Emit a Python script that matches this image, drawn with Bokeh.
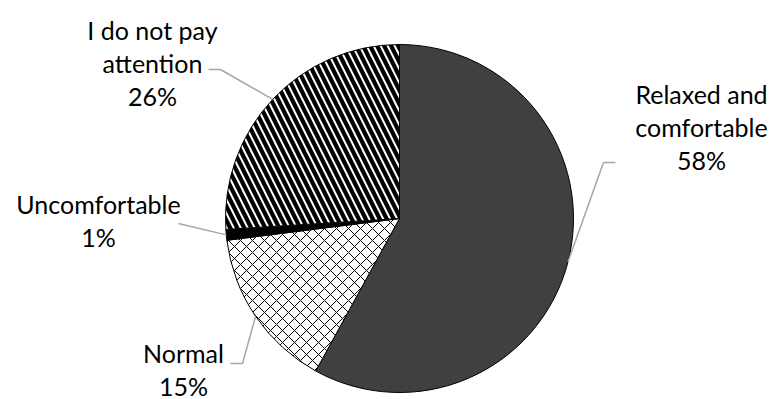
import math
from bokeh.plotting import figure
from bokeh.models import Range1d, ColumnDataSource
from bokeh.core.properties import value
from bokeh.embed import file_html
from bokeh.resources import INLINE

# Survey answers, clockwise from 12 o'clock
categories = ["Relaxed and comfortable", "Normal", "Uncomfortable", "I do not pay attention"]
percents = [58, 15, 1, 26]
label_lines = [["Relaxed and", "comfortable", "58%"],
               ["Normal", "15%"],
               ["Uncomfortable", "1%"],
               ["I do not pay", "attention", "26%"]]

W, H = 774, 399
CX, CY, R = 399, H - 218, 174

p = figure(width=W, height=H, output_backend="svg", toolbar_location=None,
           x_range=Range1d(0, W), y_range=Range1d(0, H), min_border=0)
p.axis.visible = False
p.grid.visible = False
p.outline_line_color = None
p.background_fill_color = "white"

# slice angles (clockwise from top)
total = sum(percents)
starts, ends, mids = [], [], []
cum = 0.0
for v in percents:
    a0 = math.pi / 2 - 2 * math.pi * (cum + v) / total
    a1 = math.pi / 2 - 2 * math.pi * cum / total
    starts.append(a0)
    ends.append(a1)
    mids.append((a0 + a1) / 2)
    cum += v

styles = [
    dict(fill_color="#404040", hatch_pattern=None),
    dict(fill_color="white", hatch_pattern="diagonal_cross", hatch_color="black",
         hatch_weight=1.0, hatch_scale=12),
    dict(fill_color="black", hatch_pattern=None),
    dict(fill_color="white", hatch_pattern="left_diagonal_line", hatch_color="black",
         hatch_weight=4.2, hatch_scale=14),
]

for i, cat in enumerate(categories):
    src = ColumnDataSource(dict(x=[CX], y=[CY], s=[starts[i]], e=[ends[i]]))
    st = styles[i]
    kw = dict(x="x", y="y", radius=R, start_angle="s", end_angle="e", source=src,
              fill_color=st["fill_color"], line_color="black", line_width=1)
    if st.get("hatch_pattern"):
        kw.update(hatch_pattern=st["hatch_pattern"], hatch_color=st["hatch_color"],
                  hatch_weight=st["hatch_weight"], hatch_scale=st["hatch_scale"])
    p.wedge(**kw)

# label placement: (center x, first line y) in screen pixels, line spacing, leader knees
label_pos = [(701, 93), (183, 352), (98, 203), (152, 29)]
line_gap = 33
knees = [[(603, 162), (615, 162)],
         [(242, 363), (230, 363)],
         [(178, 223)],
         [(220, 69), (208, 69)]]

for i in range(len(categories)):
    ex = CX + R * math.cos(mids[i])
    ey = CY + R * math.sin(mids[i])
    xs = [ex] + [k[0] for k in knees[i]]
    ys = [ey] + [H - k[1] for k in knees[i]]
    p.line(xs, ys, line_color="#A6A6A6", line_width=1.5)

    lx, ly = label_pos[i]
    lines = label_lines[i]
    tx = [lx] * len(lines)
    ty = [H - (ly + j * line_gap) for j in range(len(lines))]
    p.text(x=tx, y=ty, text=lines, text_align="center", text_baseline="middle",
           text_font=value("Lato"), text_font_size="25px", text_color="black")

open("out.html", "w").write(file_html(p, INLINE))
